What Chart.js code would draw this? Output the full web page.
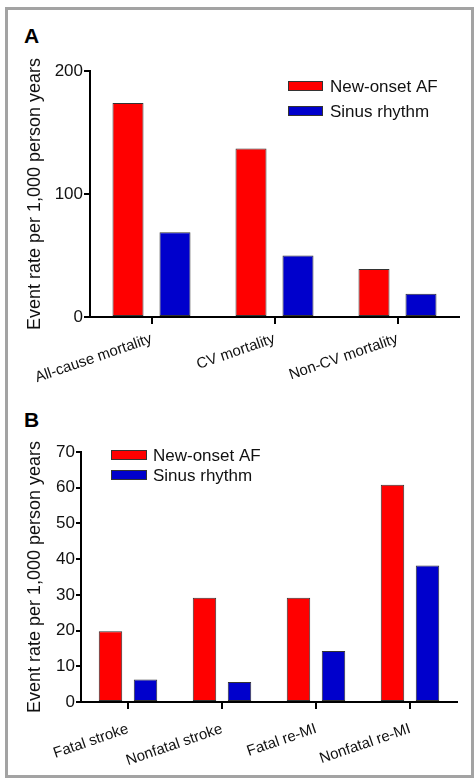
<!DOCTYPE html>
<html>
<head>
<meta charset="utf-8">
<script src="https://cdn.jsdelivr.net/npm/chart.js@4"></script>
<style>
  body { margin: 0; background: #fff; font-family: Arial, "Liberation Sans", sans-serif; }
  #frame { position: absolute; left: 5px; top: 7px; width: 463px; height: 765px; border: 3px solid #a3a3a3; }
  canvas { position: absolute; left: 8px; }
  #chartA { top: 10px; }
  #chartB { top: 395px; }
  .panel { position: absolute; left: 24px; font-weight: bold; font-size: 21px; line-height: 1; color: #000; }
</style>
</head>
<body>
<div id="frame"></div>
<div class="panel" style="top:25px">A</div>
<div class="panel" style="top:409px">B</div>
<canvas id="chartA" width="463" height="385"></canvas>
<canvas id="chartB" width="463" height="380"></canvas>
<script>
// panel A - mortality
var mortalityLabels = ['All-cause mortality', 'CV mortality', 'Non-CV mortality'];
var mortalityAF = [174, 137, 39];
var mortalitySinus = [69, 50, 19];

// panel B - stroke / re-MI
var eventLabels = ['Fatal stroke', 'Nonfatal stroke', 'Fatal re-MI', 'Nonfatal re-MI'];
var eventAF = [19.8, 29.2, 29.2, 60.8];
var eventSinus = [6.3, 5.6, 14.3, 38.2];

var seriesNames = ['New-onset AF', 'Sinus rhythm'];
var yTitle = 'Event rate per 1,000 person years';

Chart.defaults.font.family = 'Arial, "Liberation Sans", sans-serif';
Chart.defaults.color = '#111';

// legend drawn inside the plot area
var boxLegend = {
  id: 'boxLegend',
  afterDraw: function(chart, args, opts) {
    var ctx = chart.ctx;
    ctx.save();
    ctx.font = opts.fontSize + 'px Arial, "Liberation Sans", sans-serif';
    ctx.textBaseline = 'middle';
    chart.data.datasets.forEach(function(ds, i) {
      var y = opts.y + i * opts.rowGap;
      ctx.fillStyle = ds.backgroundColor;
      ctx.fillRect(opts.x, y, opts.boxW, opts.boxH);
      ctx.strokeStyle = '#333';
      ctx.lineWidth = 1;
      ctx.strokeRect(opts.x + 0.5, y + 0.5, opts.boxW - 1, opts.boxH - 1);
      ctx.fillStyle = '#111';
      ctx.fillText(ds.label, opts.x + opts.boxW + opts.gap, y + opts.boxH / 2 + 1);
    });
    ctx.restore();
  }
};

function makeChart(id, labels, af, sinus, cfg) {
  return new Chart(document.getElementById(id), {
    type: 'bar',
    data: {
      labels: labels,
      datasets: [
        { label: seriesNames[0], data: af, backgroundColor: '#ff0000', borderColor: '#333', borderWidth: 1, borderSkipped: false },
        { label: seriesNames[1], data: sinus, backgroundColor: '#0000cc', borderColor: '#333', borderWidth: 1, borderSkipped: false }
      ]
    },
    options: {
      responsive: false,
      animation: false,
      datasets: { bar: { categoryPercentage: cfg.catPct, barPercentage: cfg.barPct } },
      layout: { padding: cfg.padding },
      plugins: {
        legend: { display: false },
        tooltip: { enabled: false },
        boxLegend: cfg.legend
      },
      scales: {
        x: {
          ticks: { minRotation: 19, maxRotation: 19, autoSkip: false, font: { size: 15 }, padding: cfg.xPad },
          grid: { drawOnChartArea: false, offset: false, tickLength: 7, color: '#000', lineWidth: 2 },
          border: { color: '#000', width: 2 },
          afterFit: function(s) { s.height = cfg.xHeight; }
        },
        y: {
          min: 0, max: cfg.max,
          ticks: { stepSize: cfg.step, font: { size: 17 }, padding: 1 },
          grid: { drawOnChartArea: false, tickLength: cfg.yTick, color: '#000', lineWidth: 2 },
          border: { color: '#000', width: 2 },
          title: { display: true, text: yTitle, font: { size: 18 }, padding: { top: 16, bottom: 0 } },
          afterFit: function(s) { s.width = cfg.yWidth; }
        }
      }
    },
    plugins: [boxLegend]
  });
}

makeChart('chartA', mortalityLabels, mortalityAF, mortalitySinus, {
  max: 200, step: 100, yTick: 6, yWidth: 82, xHeight: 78, xPad: 6,
  catPct: 0.764, barPct: 0.66,
  padding: { top: 61, right: 12, left: 0, bottom: 0 },
  legend: { x: 280, y: 71, boxW: 35, boxH: 10, rowGap: 25, gap: 7, fontSize: 17 }
});

makeChart('chartB', eventLabels, eventAF, eventSinus, {
  max: 70, step: 10, yTick: 5, yWidth: 73, xHeight: 73, xPad: 11,
  catPct: 0.745, barPct: 0.67,
  padding: { top: 57, right: 14, left: 0, bottom: 0 },
  legend: { x: 103, y: 55, boxW: 36, boxH: 10, rowGap: 20, gap: 6, fontSize: 17 }
});
</script>
</body>
</html>
